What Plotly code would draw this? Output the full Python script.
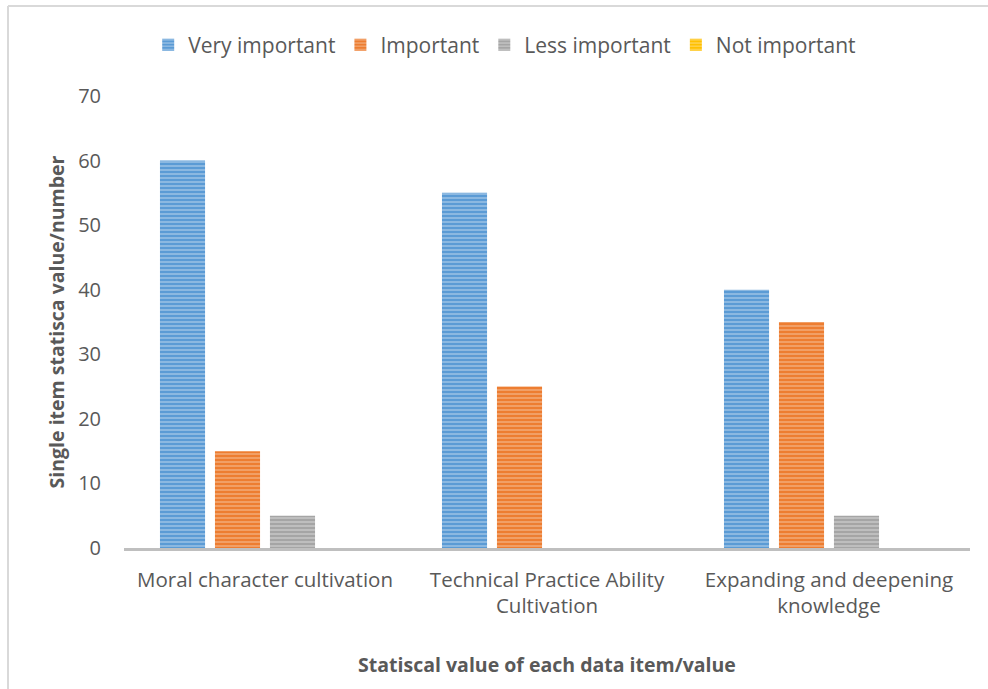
import plotly.graph_objects as go

categories = ["Moral character cultivation",
              "Technical Practice Ability<br>Cultivation",
              "Expanding and deepening<br>knowledge"]
series_names = ["Very important", "Important", "Less important", "Not important"]
very_important = [60, 55, 40]
important = [15, 25, 35]
less_important = [5, 0, 5]
not_important = [0, 0, 0]
y_ticks = [0, 10, 20, 30, 40, 50, 60, 70]

values = [very_important, important, less_important, not_important]
colors = ["#5B9BD5", "#ED7D31", "#A5A5A5", "#FFC000"]
light = ["#C5DCF0", "#F8C8A6", "#DCDCDC", "#FFE699"]

FONT = "Open Sans"
TXT = "#595959"

fig = go.Figure()
for name, vals, c, lc in zip(series_names, values, colors, light):
    fig.add_trace(go.Bar(
        x=categories, y=vals, name=name,
        marker=dict(color=c, line=dict(width=0),
                    pattern=dict(shape="-", fgcolor=lc, bgcolor=c,
                                 size=4, solidity=0.45, fillmode="overlay")),
    ))

L, R, T, B = 124, 18, 96, 141
W, H = 988, 689
pw = W - L - R
ph = H - T - B
bx = (8 - L) / pw
by = (H - B - 6) / ph
ly = (H - B - 45) / ph

fig.update_layout(
    width=W, height=H,
    margin=dict(l=L, r=R, t=T, b=B),
    paper_bgcolor="white", plot_bgcolor="white",
    barmode="group", bargap=0.22, bargroupgap=0.18,
    font=dict(family=FONT, color=TXT, size=20),
    showlegend=True,
    legend=dict(orientation="h", x=0.45, xanchor="center", y=ly, yanchor="middle",
                font=dict(size=21, color=TXT), itemwidth=30, traceorder="normal"),
    xaxis=dict(showgrid=False, showline=True, linecolor="#BFBFBF", linewidth=3,
               ticks="", tickfont=dict(size=20.5, color=TXT), ticklabelstandoff=11,
               title=dict(text="<b>Statiscal value of each data item/value</b>",
                          font=dict(size=19.5, color=TXT), standoff=41)),
    yaxis=dict(range=[0, 70], tickvals=y_ticks, showgrid=False, showline=False,
               zeroline=False, ticks="", ticklabelstandoff=22,
               tickfont=dict(size=20, color=TXT),
               title=dict(text="<b>Single item statisca value/number</b>",
                          font=dict(size=19.5, color=TXT), standoff=8)),
    shapes=[
        dict(type="line", xref="paper", yref="paper", x0=bx, x1=1.2, y0=by, y1=by,
             line=dict(color="#D9D9D9", width=2)),
        dict(type="line", xref="paper", yref="paper", x0=bx, x1=bx, y0=by, y1=-0.5,
             line=dict(color="#D9D9D9", width=2)),
    ],
)

fig.write_html("out.html")
